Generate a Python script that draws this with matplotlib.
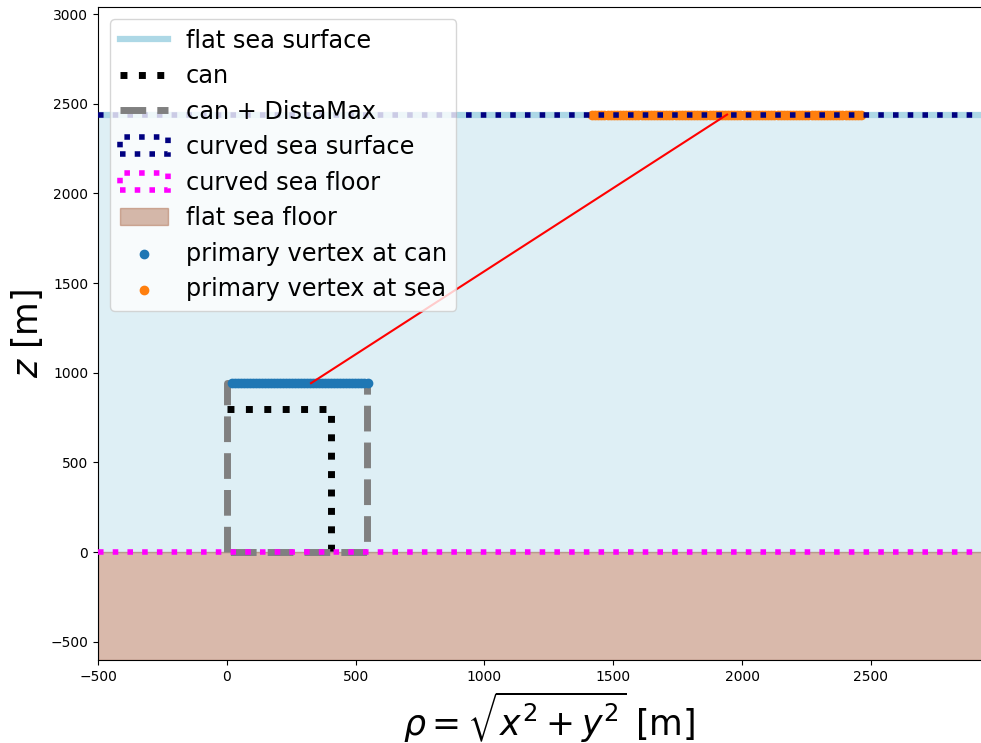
import matplotlib
matplotlib.use("Agg")
import matplotlib.pyplot as plt
import matplotlib.patches as mpatches

# geometry (metres)
x_range = [-500, 3000]
y_range = [-602, 3040]
x_ticks = [-500, 0, 500, 1000, 1500, 2000, 2500]
sea_level = 2440
sea_floor = 0
floor_bottom = -602

can_radius = 403
can_height = 800
dista_max = 142

# primary vertices (rho), dense enough to merge into a band
vertex_can_rho = [22, 33, 45, 57, 68, 80, 91, 103, 115, 126, 138, 150, 161, 173,
                  185, 196, 208, 219, 231, 243, 254, 266, 278, 289, 301, 313,
                  324, 336, 347, 359, 371, 382, 394, 406, 417, 429, 441, 452,
                  464, 476, 487, 499, 511, 522, 534, 547]
vertex_can_z = [942] * len(vertex_can_rho)
vertex_sea_rho = [1418, 1430, 1442, 1454, 1466, 1478, 1490, 1502, 1514, 1526,
                  1538, 1550, 1562, 1574, 1586, 1598, 1610, 1622, 1634, 1646,
                  1658, 1670, 1682, 1694, 1706, 1718, 1730, 1742, 1754, 1766,
                  1778, 1790, 1802, 1814, 1826, 1838, 1850, 1862, 1874, 1886,
                  1898, 1910, 1922, 1934, 1946, 1958, 1970, 1982, 1994, 2006,
                  2018, 2030, 2042, 2054, 2066, 2078, 2090, 2102, 2114, 2126,
                  2138, 2150, 2162, 2174, 2186, 2198, 2210, 2222, 2234, 2246,
                  2258, 2270, 2282, 2294, 2306, 2318, 2330, 2342, 2354, 2366,
                  2378, 2390, 2402, 2414, 2426, 2438, 2450, 2462]
vertex_sea_z = [sea_level] * len(vertex_sea_rho)

# example track: from can vertex to sea vertex
track_rho = [327, 1942]
track_z = [942, sea_level]


def main():
    fig = plt.figure(figsize=(9.81, 7.43), dpi=100)
    ax = fig.add_axes([98 / 981, 83 / 743, 901.6 / 981, 653 / 743])

    # sea water and flat sea floor
    ax.fill_between(x_range, sea_floor, sea_level, color="lightblue", alpha=0.4, zorder=0.5)
    ax.plot(x_range, [sea_level, sea_level], color="lightblue", lw=4.5,
            label="flat sea surface", zorder=0.6)
    ax.fill_between(x_range, floor_bottom, sea_floor, color="sienna", alpha=0.4,
                    label="flat sea floor", zorder=0.7)

    # can and extended can
    ax.plot([0, can_radius, can_radius], [can_height, can_height, 0],
            ls=":", color="black", lw=5, label="can", zorder=2)
    r_ext = can_radius + dista_max
    h_ext = can_height + dista_max
    ax.plot([0, 0, r_ext, r_ext, 0], [0, h_ext, h_ext, 0, 0],
            ls="--", color="grey", lw=5, label="can + DistaMax", zorder=2.1)

    # curved surfaces (curvature negligible on this scale)
    surf = mpatches.Polygon([[x_range[0], sea_level], [x_range[1], sea_level]],
                            closed=False, fill=False, ls=":", ec="navy", lw=4,
                            label="curved sea surface", zorder=3)
    floor = mpatches.Polygon([[x_range[0], sea_floor], [x_range[1], sea_floor]],
                             closed=False, fill=False, ls=":", ec="magenta", lw=4,
                             label="curved sea floor", zorder=3)
    ax.add_patch(surf)
    ax.add_patch(floor)

    ax.scatter(vertex_can_rho, vertex_can_z, color="C0", label="primary vertex at can", zorder=2.5)
    ax.scatter(vertex_sea_rho, vertex_sea_z, color="C1", label="primary vertex at sea", zorder=2.5)

    ax.plot(track_rho, track_z, color="red", lw=1.5, zorder=4)

    ax.set_xlim(*x_range)
    ax.set_ylim(*y_range)
    ax.set_xticks(x_ticks)
    ax.set_xlabel(r"$\rho = \sqrt{x^2 + y^2}$ [m]", fontsize=25)
    ax.set_ylabel(r"$z$ [m]", fontsize=25)

    h, l = ax.get_legend_handles_labels()
    order = ["flat sea surface", "can", "can + DistaMax", "curved sea surface",
             "curved sea floor", "flat sea floor", "primary vertex at can",
             "primary vertex at sea"]
    hs = [h[l.index(name)] for name in order]
    ax.legend(hs, order, loc="upper left", fontsize="xx-large",
              handlelength=2.0, labelspacing=0.48, handletextpad=0.75)

    fig.savefig("out.png", dpi=100)
    plt.close(fig)


if __name__ == "__main__":
    main()
